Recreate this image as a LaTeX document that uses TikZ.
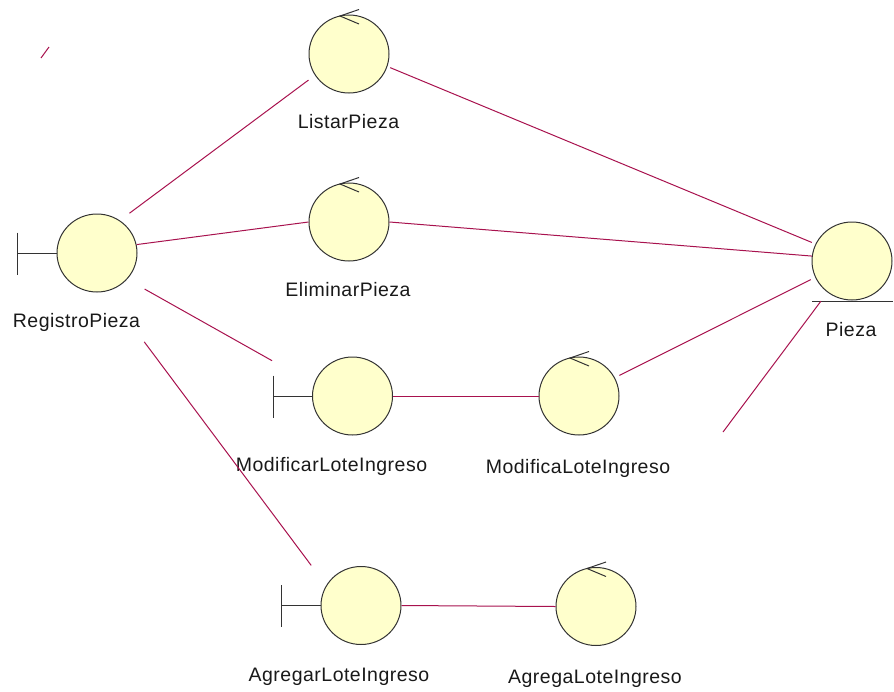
\documentclass[tikz,border=0pt]{standalone}
\usepackage{fontspec}
\setmainfont[LetterSpace=2.5]{Liberation Sans}
\usetikzlibrary{shapes.geometric}
\definecolor{conncol}{HTML}{A8124E}
\definecolor{fillcol}{HTML}{FFFFCC}
\definecolor{edgecol}{HTML}{333333}
\tikzset{
  obj/.style={ellipse,draw=edgecol,fill=fillcol,line width=1pt,inner sep=0pt,minimum width=80pt,minimum height=78pt},
  lab/.style={inner sep=0pt,font=\fontsize{19.5}{21}\selectfont,text=black!90},
  conn/.style={draw=conncol,line width=1pt},
  glyph/.style={draw=edgecol,line width=1pt}
}
\newcommand{\ctrltick}[1]{
  \draw[glyph] ([shift={(10,-5)}]#1.north) -- ([shift={(-9,1.5)}]#1.north) -- ([shift={(10,9.5)}]#1.north);
}
\newcommand{\boundbar}[1]{
  \coordinate (#1barT) at ([shift={(-39,-20.5)}]#1.west);
  \coordinate (#1barB) at ([shift={(-39,21.5)}]#1.west);
  \coordinate (#1barM) at ([shift={(-39,0)}]#1.west);
  \draw[glyph] (#1barT) -- (#1barB);
  \draw[glyph] (#1barM) -- (#1.west);
}
\begin{document}
\begin{tikzpicture}[x=1pt,y=-1pt]
\useasboundingbox (0,0) rectangle (894,691);
% objects
\node[obj] (listar) at (349,54) {};
\node[obj] (elim) at (349,222) {};
\node[obj] (reg) at (97,253) {};
\node[obj] (piezaobj) at (852,261) {};
\node[obj] (modb) at (352.5,396) {};
\node[obj] (modc) at (579,396) {};
\node[obj] (agrb) at (361,605.5) {};
\node[obj] (agrc) at (596,606.5) {};
% labels
\node[lab] (l1) at (348.5,122) {ListarPieza};
\node[lab] (l2) at (348,290) {EliminarPieza};
\node[lab] (l3) at (76.5,322.5) {RegistroPieza};
\node[lab] (l4) at (851,330) {Pieza};
\node[lab] (l5) at (331.5,466.5) {ModificarLoteIngreso};
\node[lab] (l6) at (578,468.5) {ModificaLoteIngreso};
\node[lab] (l7) at (339,676.5) {AgregarLoteIngreso};
\node[lab] (l8) at (595,678.5) {AgregaLoteIngreso};
% glyphs
\ctrltick{listar}
\ctrltick{elim}
\ctrltick{modc}
\ctrltick{agrc}
\boundbar{reg}
\boundbar{modb}
\boundbar{agrb}
\draw[glyph] ([shift={(-40,1)}]piezaobj.south) -- ([shift={(41,1)}]piezaobj.south);
% connectors
\draw[conn,shorten <=12pt,shorten >=8pt] (reg.55.6) -- (listar.212.3);
\draw[conn] (reg.12.7) -- (elim.180);
\draw[conn,shorten <=20pt,shorten >=48pt] (reg.-41.5) -- (modb.163.2);
\draw[conn,shorten <=63pt,shorten >=25pt] (reg.-76.6) -- (agrb.150.3);
\draw[conn,shorten <=3pt,shorten >=4pt] (listar.-18.7) -- (piezaobj.155.6);
\draw[conn] (elim.0) -- (piezaobj.173);
\draw[conn,shorten <=5pt,shorten >=5pt] (modc.27) -- (piezaobj.204.7);
\draw[conn] (modb.east) -- (modc.west);
\draw[conn] (agrb.east) -- (agrc.west);
\coordinate (free1) at (723,432);
\draw[conn,shorten >=11pt] (free1) -- (piezaobj.232);
\coordinate (free2) at (41,58);
\coordinate (free3) at (49,47);
\draw[conn] (free2) -- (free3);
\end{tikzpicture}
\end{document}
